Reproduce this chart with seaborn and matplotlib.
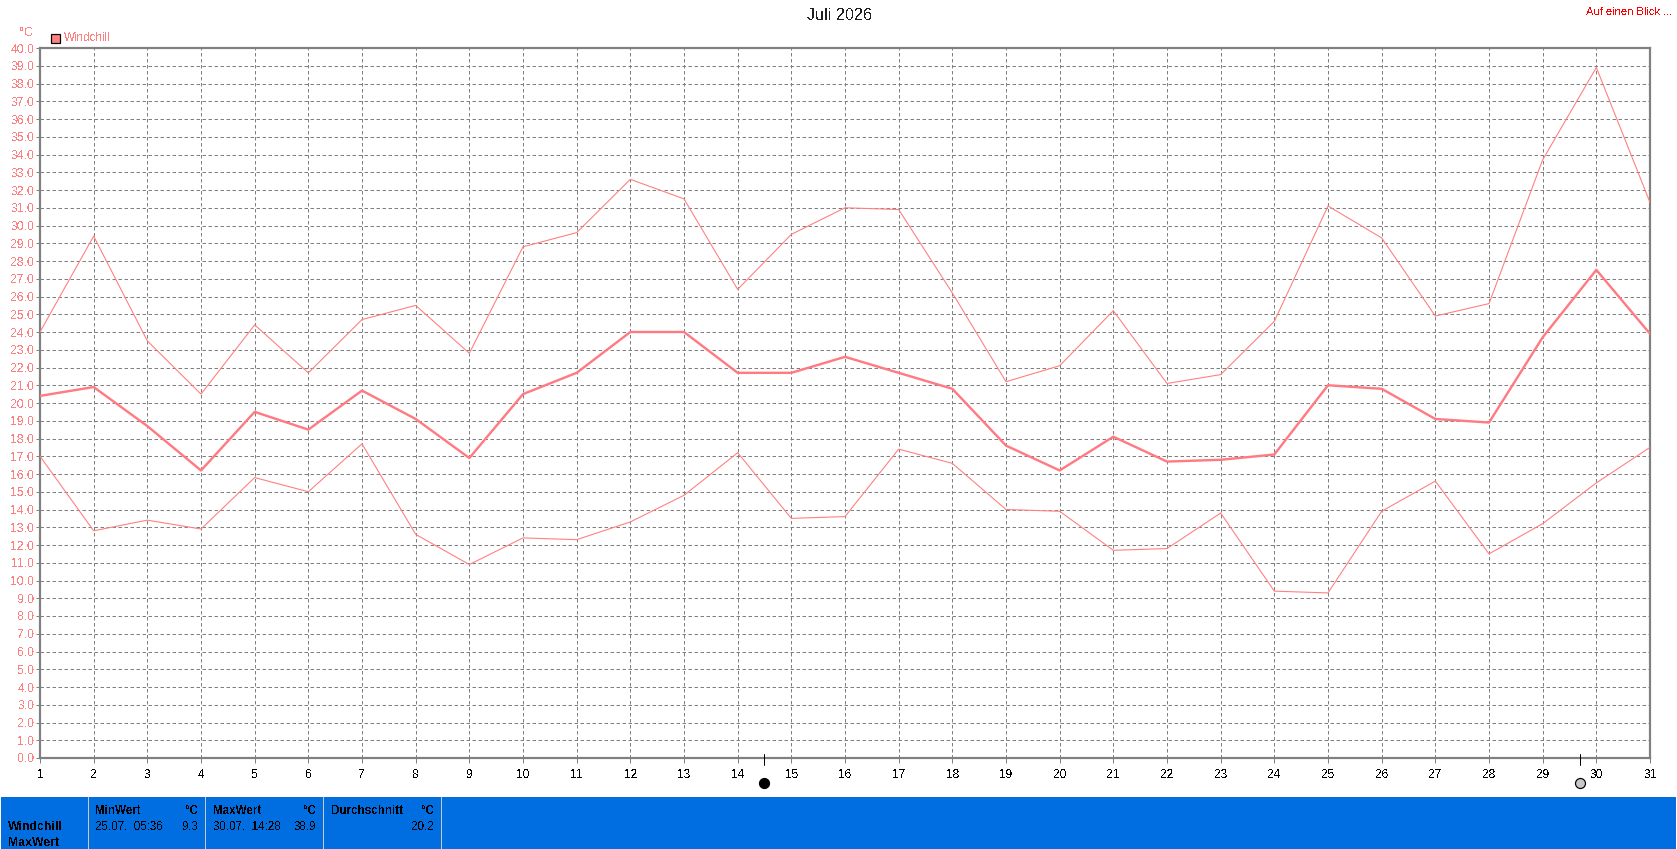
import matplotlib
matplotlib.use("Agg")
import matplotlib.pyplot as plt
from matplotlib.patches import Rectangle
from matplotlib.transforms import blended_transform_factory
import numpy as np
import pandas as pd
import seaborn as sns

days = list(range(1, 32))
max_vals = [24.0, 29.4, 23.5, 20.5, 24.4, 21.7, 24.7, 25.5, 22.8, 28.8, 29.6, 32.6, 31.5, 26.4, 29.5, 31.0,
            30.9, 26.2, 21.2, 22.1, 25.2, 21.1, 21.6, 24.6, 31.1, 29.3, 24.9, 25.6, 33.7, 38.9, 31.3]
avg_vals = [20.4, 20.9, 18.7, 16.2, 19.5, 18.5, 20.7, 19.1, 16.9, 20.5, 21.7, 24.0, 24.0, 21.7, 21.7, 22.6,
            21.7, 20.8, 17.6, 16.2, 18.1, 16.7, 16.8, 17.1, 21.0, 20.8, 19.1, 18.9, 23.7, 27.5, 23.9]
min_vals = [17.0, 12.8, 13.4, 12.9, 15.8, 15.0, 17.7, 12.6, 10.9, 12.4, 12.3, 13.3, 14.8, 17.2, 13.5, 13.6,
            17.4, 16.6, 14.0, 13.9, 11.7, 11.8, 13.8, 9.4, 9.3, 13.9, 15.6, 11.5, 13.2, 15.5, 17.5]
moon_days = [14.49, 29.7]
moon_faces = ["black", "#c8c8c8"]
title = "Juli 2026"
series_name = "Windchill"
link_text = "Auf einen Blick ..."
panel_columns = [
    ("MinWert", "25.07.  05:36", "9.3"),
    ("MaxWert", "30.07.  14:28", "38.9"),
    ("Durchschnitt", "", "20.2"),
]
panel_row_labels = ["Windchill", "MaxWert"]

PINK = "#ff8080"
GRID = "#808080"
BLUE = "#006ee0"
W, H = 1677, 849

sns.set_theme(style="white")
plt.rcParams["font.family"] = ["Liberation Sans", "DejaVu Sans"]
plt.rcParams["text.antialiased"] = False

fig = plt.figure(figsize=(W / 100, H / 100), dpi=100, facecolor="white")
left, right, top, bottom = 40, 1650, 48, 758
ax = fig.add_axes([left / W, 1 - bottom / H, (right - left) / W, (bottom - top) / H])
px = 72 / 100

df = pd.DataFrame({"day": days, "max": max_vals, "avg": avg_vals, "min": min_vals})
ax.set_axisbelow(True)
ax.grid(True, color=GRID, lw=1 * px, linestyle=(0, (3.5, 2.5)))
sns.lineplot(data=df, x="day", y="max", ax=ax, color=PINK, lw=1.1 * px, errorbar=None, zorder=3)
sns.lineplot(data=df, x="day", y="min", ax=ax, color=PINK, lw=1.1 * px, errorbar=None, zorder=3)
sns.lineplot(data=df, x="day", y="avg", ax=ax, color="#ff7a82", lw=2.4 * px, errorbar=None, zorder=3)

ax.set_xlim(1, 31)
ax.set_ylim(0, 40)
ax.set_xlabel("")
ax.set_ylabel("")
ax.set_xticks(days)
ax.set_yticks(np.arange(0, 41))
ax.set_yticklabels([f"{v:.1f}" for v in range(0, 41)])
ax.tick_params(axis="x", length=4 * px * 1.3, width=1 * px, color=GRID, labelcolor="black", labelsize=8.6, pad=4.5, bottom=True)
ax.tick_params(axis="y", length=4 * px, width=1 * px, color=GRID, labelcolor=PINK, labelsize=8.8, pad=1.2, left=True)
for s in ax.spines.values():
    s.set_color(GRID)
    s.set_linewidth(2.2 * px)


def ftext(x, y, s, **kw):
    kw.setdefault("va", "center")
    kw.setdefault("fontsize", 8.4)
    fig.text(x / W, 1 - y / H, s, **kw)


# header
ftext(840, 15, title, ha="center", fontsize=11.6, color="#202020")
ftext(1672, 12, link_text, color="#ff0000", fontsize=8.0, ha="right")
ftext(19, 33, "°C", color=PINK, fontsize=9)
fig.add_artist(Rectangle((50.5 / W, 1 - 43 / H), 9.5 / W, 9.5 / H, transform=fig.transFigure,
                         facecolor=PINK, edgecolor="black", lw=1.2 * px))
ftext(64, 38, series_name, color=PINK)

# moon phase markers
trans = blended_transform_factory(ax.transData, ax.transAxes)
for d, face in zip(moon_days, moon_faces):
    ax.plot([d, d], [(bottom - 754) / (bottom - top), (bottom - 765) / (bottom - top)],
            color="black", lw=1 * px, transform=trans, clip_on=False, zorder=6)
    ax.plot([d], [(bottom - 783) / (bottom - top)], marker="o", ms=10 * px, mfc=face, mec="black",
            mew=1.2 * px, transform=trans, clip_on=False, zorder=6)

# bottom panel
fig.add_artist(Rectangle((1 / W, 0), (W - 2) / W, (H - 797) / H, transform=fig.transFigure,
                         facecolor=BLUE, edgecolor="none"))
for sx in [88, 205, 323, 441]:
    fig.add_artist(Rectangle((sx / W, 0), 1.4 / W, (H - 797) / H, transform=fig.transFigure,
                             facecolor="#c8c8c8", edgecolor="none"))
ftext(8, 827, panel_row_labels[0], fontweight="bold", color="black", fontsize=8.8)
ftext(8, 843, panel_row_labels[1], fontweight="bold", color="black", fontsize=8.8)
for (head, when, val), xl, xr in zip(panel_columns, [95, 213, 331], [198, 316, 434]):
    ftext(xl, 811, head, fontweight="bold", color="black")
    ftext(xr, 811, "°C", fontweight="bold", color="black", ha="right")
    if when:
        ftext(xl, 827, when, color="black")
    ftext(xr, 827, val, color="black", ha="right")

fig.savefig("out.png", dpi=100, facecolor="white")
